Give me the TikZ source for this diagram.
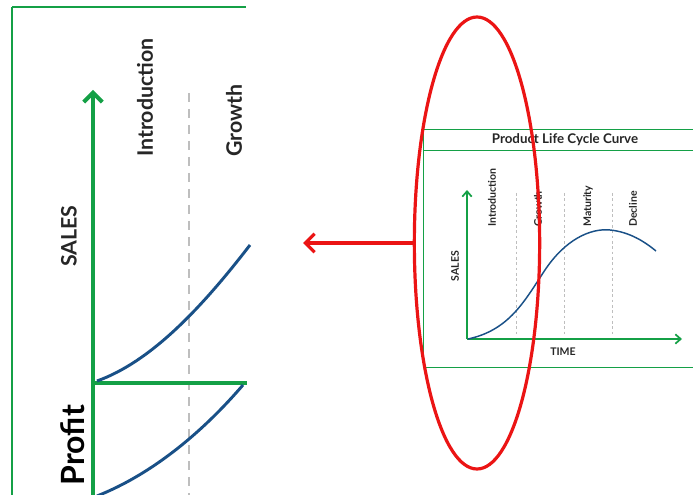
\documentclass[tikz,border=0pt]{standalone}
\usepackage{fontspec}
\setmainfont{Lato}
\usetikzlibrary{arrows.meta,shapes.geometric}
\definecolor{pgreen}{RGB}{20,160,70}
\definecolor{pblue}{RGB}{25,80,135}
\definecolor{pred}{RGB}{235,20,20}
\definecolor{pgray}{RGB}{190,190,190}
\tikzset{
  axisline/.style={draw=pgreen, line width=3pt},
  axisthin/.style={draw=pgreen, line width=1.3pt},
  frameline/.style={draw=pgreen, line width=0.9pt},
  curveline/.style={draw=pblue, line width=2.2pt},
  curvethin/.style={draw=pblue, line width=1.1pt},
  lbl/.style={inner sep=0pt, text=black!85, font=\bfseries\fontsize{16}{16}\selectfont},
  slbl/.style={inner sep=0pt, text=black!85, font=\bfseries\fontsize{7.9}{7.9}\selectfont},
}
\begin{document}
\begin{tikzpicture}[x=0.75pt,y=-0.75pt]
\useasboundingbox (0,0) rectangle (693,495);
\begin{scope}
\clip (0,0) rectangle (693,495);
% ---------- left panel ----------
\draw[frameline] (12,7) -- (12,500);
\draw[frameline] (12,7) -- (246,7);
\draw[pgray, line width=1.2pt, dash pattern=on 7pt off 5pt] (189,93) -- (189,500);
\coordinate (lo) at (93,383);
\coordinate (ltop) at (93,90);
\coordinate (lright) at (247,383);
\coordinate (lbot) at (93,500);
\draw[axisline, -{Straight Barb[length=7pt,width=14pt]}] (lo) -- (ltop);
\draw[axisline] (lo) -- (lright);
\draw[axisline] (lo) -- (lbot);
\draw[curveline] (97,381) .. controls (150,362) and (200,310) .. (250,245);
\draw[curveline] (97,496) .. controls (150,475) and (200,435) .. (243,385);
\node[lbl, rotate=90, anchor=west] (lintro) at (145,157) {Introduction};
\node[lbl, rotate=90, anchor=west] (lgrowth) at (234,157) {Growth};
\node[lbl, rotate=90] (lsales) at (69,236) {SALES};
\node[inner sep=0pt, rotate=90, font=\fontsize{24}{24}\selectfont\bfseries] (lprofit) at (73,445) {Profit};
% ---------- right panel ----------
\draw[frameline, line width=0.7pt] (423,129) rectangle (700,367);
\draw[frameline, line width=0.7pt] (423,150) -- (700,150);
\node[inner sep=0pt, text=black!85, font=\fontsize{10}{10}\selectfont\bfseries] (title) at (565,140) {Product Life Cycle Curve};
\foreach \xx in {516,564,612}{
  \draw[pgray, line width=0.5pt, dash pattern=on 2pt off 2pt] (\xx,193) -- (\xx,334);
}
\coordinate (ro) at (467,339);
\coordinate (rtop) at (467,190);
\coordinate (rright) at (682,339);
\draw[axisthin, -{Straight Barb[length=4pt,width=7pt]}] (ro) -- (rtop);
\draw[axisthin, -{Straight Barb[length=4pt,width=7pt]}] (ro) -- (rright);
\draw[curvethin] (468,339) .. controls (510,330) and (525,300) .. (545,270)
  .. controls (565,240) and (590,228) .. (610,230)
  .. controls (630,232) and (645,242) .. (656,251);
\node[slbl, rotate=90, anchor=west] (rintro) at (492,227) {Introduction};
\node[slbl, rotate=90, anchor=west] (rgrowth) at (538,227) {Growth};
\node[slbl, rotate=90, anchor=west] (rmat) at (588,227) {Maturity};
\node[slbl, rotate=90, anchor=west] (rdec) at (633,227) {Decline};
\node[slbl, rotate=90] (rsales) at (455,266) {SALES};
\node[slbl] (rtime) at (563,352) {TIME};
% ---------- red highlight ----------
\node[draw=pred, line width=2.4pt, ellipse, minimum width=94pt, minimum height=339pt, inner sep=0pt] (hl) at (477,243) {};
\coordinate (arrend) at (303,243);
\draw[pred, line width=2.4pt, -{Straight Barb[length=7pt,width=14pt]}] (hl.west) -- (arrend);
\end{scope}
\end{tikzpicture}
\end{document}
